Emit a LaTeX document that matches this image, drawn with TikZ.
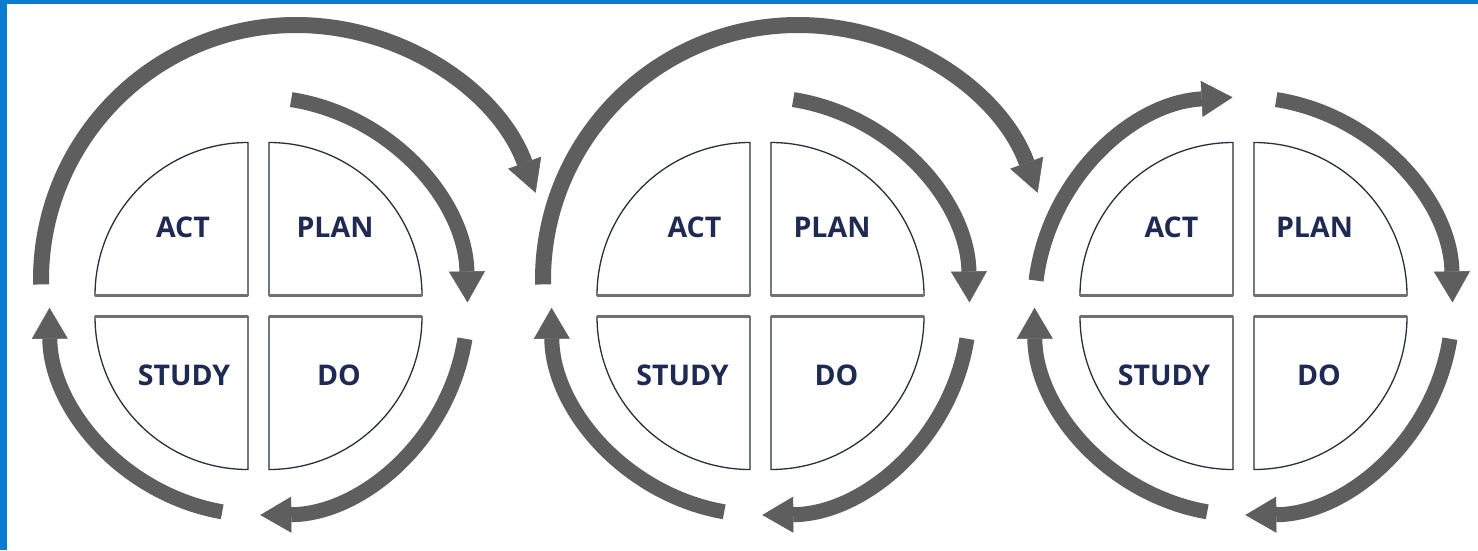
\documentclass[tikz,border=0pt]{standalone}
\usepackage{fontspec}
\setmainfont{Open Sans}
\usetikzlibrary{arrows.meta,calc}
\definecolor{arrowgray}{HTML}{5E5E5E}
\definecolor{navy}{HTML}{1E2A52}
\definecolor{frameblue}{HTML}{0A7BD0}
\definecolor{edgegray}{HTML}{707070}
\definecolor{outline}{HTML}{2B2F3C}
\begin{document}
\begin{tikzpicture}[x=1pt,y=1pt,
  cyc/.style={draw=arrowgray, line width=15pt, -{Triangle[width=36pt,length=31pt,line width=0.5pt]}},
  bigcyc/.style={draw=arrowgray, line width=16pt, -{Triangle[width=35pt,length=32pt,line width=0.5pt]}},
  quad/.style={draw=outline, line width=1.3pt, fill=white},
  flat/.style={draw=edgegray, line width=2.6pt},
  lbl/.style={font=\bfseries\fontsize{28.5}{32}\selectfont, text=navy, inner sep=0pt}]
\fill[white] (0,0) rectangle (1478,-550);
\useasboundingbox (0,0) rectangle (1478,-550);
\fill[frameblue] (0,0) rectangle (1478,-4);
\fill[frameblue] (0,0) rectangle (7,-550);

\coordinate (c1) at (258.5,-306);
\coordinate (c2) at (760.5,-306);
\coordinate (c3) at (1243.5,-306);

\foreach \i/\ax/\px/\sx/\dx in {1/-75.5/76.5/-74.5/80.5, 2/-66/71.5/-78/76, 3/-72/71/-79.5/75.5}{
  % quadrants
  \draw[quad] ($(c\i)+(-10.5,10.5)$) -- ++(-153,0) arc[start angle=180,end angle=90,radius=153] -- cycle;
  \draw[quad] ($(c\i)+(10.5,10.5)$) -- ++(153,0) arc[start angle=0,end angle=90,radius=153] -- cycle;
  \draw[quad] ($(c\i)+(-10.5,-10.5)$) -- ++(-153,0) arc[start angle=180,end angle=270,radius=153] -- cycle;
  \draw[quad] ($(c\i)+(10.5,-10.5)$) -- ++(153,0) arc[start angle=0,end angle=-90,radius=153] -- cycle;
  \draw[flat] ($(c\i)+(-10.5,10.5)$) -- ++(-153,0);
  \draw[flat] ($(c\i)+(10.5,10.5)$) -- ++(153,0);
  \draw[flat] ($(c\i)+(-10.5,-10.5)$) -- ++(-153,0);
  \draw[flat] ($(c\i)+(10.5,-10.5)$) -- ++(153,0);
  % labels
  \node[lbl] (act\i) at ($(c\i)+(\ax,79)$) {ACT};
  \node[lbl] (plan\i) at ($(c\i)+(\px,79)$) {PLAN};
  \node[lbl] (study\i) at ($(c\i)+(\sx,-69)$) {STUDY};
  \node[lbl] (do\i) at ($(c\i)+(\dx,-69)$) {DO};
  % cycle arrows
  \draw[cyc] ($(c\i)+(81:209)$) arc[start angle=81,end angle=1,radius=209];
  \draw[cyc] ($(c\i)+(-9:209)$) arc[start angle=-9,end angle=-89.5,radius=209];
  \draw[cyc] ($(c\i)+(-100:209)$) arc[start angle=-100,end angle=-179.5,radius=209];
}
% top-left arrow of the last cycle
\draw[cyc] ($(c3)+(173:209)$) arc[start angle=173,end angle=93,radius=209];
% big arcs leading to the next cycle
\coordinate (o1) at ($(c1)+(37.5,26)$);
\coordinate (o2) at ($(c2)+(37.5,26)$);
\draw[bigcyc] ($(o1)+(181:255)$) arc[start angle=181,end angle=20,radius=255];
\draw[bigcyc] ($(o2)+(181:255)$) arc[start angle=181,end angle=20,radius=255];
\end{tikzpicture}
\end{document}
